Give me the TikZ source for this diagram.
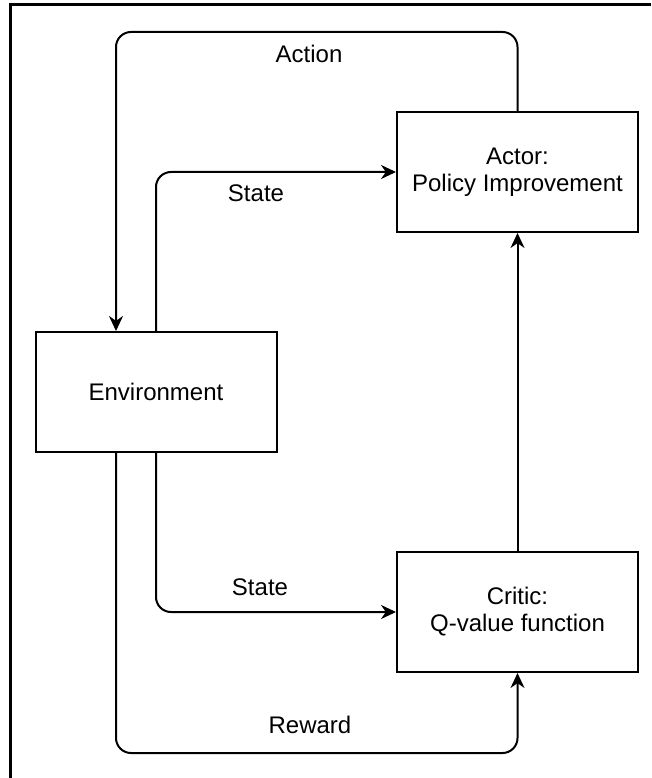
\documentclass[tikz,border=0pt]{standalone}
\usepackage{fontspec}
\setmainfont{Liberation Sans}
\usetikzlibrary{arrows.meta,positioning}

\begin{document}
\begin{tikzpicture}[x=1pt, y=-1pt,
  block/.style={rectangle, draw, line width=2pt, minimum width=241pt,
                minimum height=120pt, inner sep=0pt, align=center,
                font=\fontsize{24}{27}\selectfont},
  arr/.style={-{Stealth[length=15pt,width=14pt]}, line width=2pt,
              rounded corners=15pt},
  lbl/.style={font=\fontsize{24}{27}\selectfont}
]
  \useasboundingbox (0,0) rectangle (651,778);
  % outer frame (left and top edge only)
  \draw[line width=3pt] (10,778) -- (10,5) -- (651,5);

  \node[block] (env)    at (156,392)   {Environment};
  \node[block] (actor)  at (517.5,172) {Actor:\\Policy Improvement};
  \node[block] (critic) at (517.5,612) {Critic:\\Q-value function};

  \coordinate (envTL) at ([xshift=-40pt]env.north);
  \coordinate (envBL) at ([xshift=-40pt]env.south);

  % action: actor -> environment
  \draw[arr] (actor.north) |- (116,32) -- (envTL);
  \node[lbl] (action) at (309,54) {Action};
  % states
  \draw[arr] (env.north) |- (actor.west);
  \node[lbl] (stateA) at (256,193) {State};
  \draw[arr] (env.south) |- (critic.west);
  \node[lbl] (stateC) at (260,587) {State};
  % reward
  \draw[arr] (envBL) |- (517.5,753) -- (critic.south);
  \node[lbl] (reward) at (310,725) {Reward};
  % critic -> actor
  \draw[arr] (critic.north) -- (actor.south);
\end{tikzpicture}
\end{document}
